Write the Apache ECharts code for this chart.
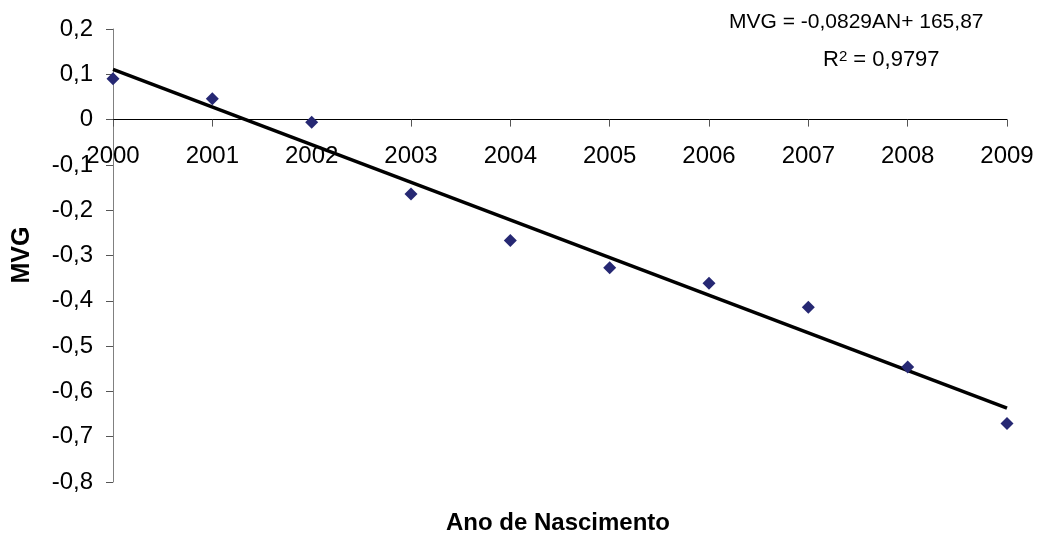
<!DOCTYPE html>
<html><head><meta charset="utf-8">
<script src="https://cdn.jsdelivr.net/npm/echarts@6/dist/echarts.min.js"></script>
<style>html,body{margin:0;padding:0;background:#fff}#c{width:1049px;height:535px}</style>
</head><body><div id="c"></div>
<script>
const years = [2000,2001,2002,2003,2004,2005,2006,2007,2008,2009];
const mvg = [0.090,0.046,-0.006,-0.164,-0.267,-0.327,-0.361,-0.414,-0.546,-0.671];
const trendYears = [2000, 2009];
const trendValues = [0.111, -0.637];
const equationText = 'MVG = -0,0829AN+ 165,87';
const r2Text = '0,9797';
const yTitle = 'MVG';
const xTitle = 'Ano de Nascimento';

const font = 'Liberation Sans, Arial, sans-serif';
const Y_MIN = -0.8, Y_MAX = 0.2;
const GRID_TOP = 29, GRID_BOTTOM = 53, H = 535;
const plotH = H - GRID_TOP - GRID_BOTTOM;
const zeroOffset = -plotH * (0 - Y_MIN) / (Y_MAX - Y_MIN);

const chart = echarts.init(document.getElementById('c'), null, {renderer:'canvas'});
chart.setOption({
  animation:false,
  backgroundColor:'#fff',
  grid:{left:113,right:42,top:GRID_TOP,bottom:GRID_BOTTOM,containLabel:false},
  xAxis:{type:'value',min:2000,max:2009,interval:1,offset:zeroOffset,
    axisLine:{onZero:false,lineStyle:{color:'#000',width:1}},
    axisTick:{show:true,length:7,lineStyle:{color:'#555'}},
    axisLabel:{color:'#000',fontSize:24,fontFamily:font,margin:25,formatter:v=>String(v),hideOverlap:false},
    splitLine:{show:false}},
  yAxis:{type:'value',min:Y_MIN,max:Y_MAX,interval:0.1,
    axisLine:{show:true,onZero:false,lineStyle:{color:'#808080',width:1}},
    axisTick:{show:true,length:7,lineStyle:{color:'#555'}},
    axisLabel:{color:'#000',fontSize:24,fontFamily:font,margin:20,
      formatter:v=>{const r=Math.round(v*10)/10;return (r===0?'0':String(r)).replace('.',',');}},
    splitLine:{show:false}},
  series:[
    {type:'line',data:trendYears.map((y,i)=>[y,trendValues[i]]),symbol:'none',
     lineStyle:{color:'#000',width:3.5},z:2},
    {type:'scatter',data:years.map((y,i)=>[y,mvg[i]]),symbol:'diamond',symbolSize:13,
     itemStyle:{color:'#262873',opacity:1},z:3}
  ],
  graphic:[
    {type:'text',x:729,y:22,style:{text:equationText,fontSize:21,fontFamily:font,fill:'#000',align:'left',verticalAlign:'middle'}},
    {type:'text',x:823,y:60,style:{rich:{n:{fontSize:22,fontFamily:font,fill:'#000',verticalAlign:'bottom'},s:{fontSize:15,fontFamily:font,fill:'#000',verticalAlign:'top'}},
      text:'{n|R}{s|2}{n| = '+r2Text+'}',align:'left',verticalAlign:'middle'}},
    {type:'text',x:22,y:255,rotation:Math.PI/2,style:{text:yTitle,fontSize:25,fontWeight:'bold',fontFamily:font,fill:'#000',align:'center',verticalAlign:'middle'}},
    {type:'text',x:558,y:523,style:{text:xTitle,fontSize:24,fontWeight:'bold',fontFamily:font,fill:'#000',align:'center',verticalAlign:'middle'}}
  ]
});
</script></body></html>
